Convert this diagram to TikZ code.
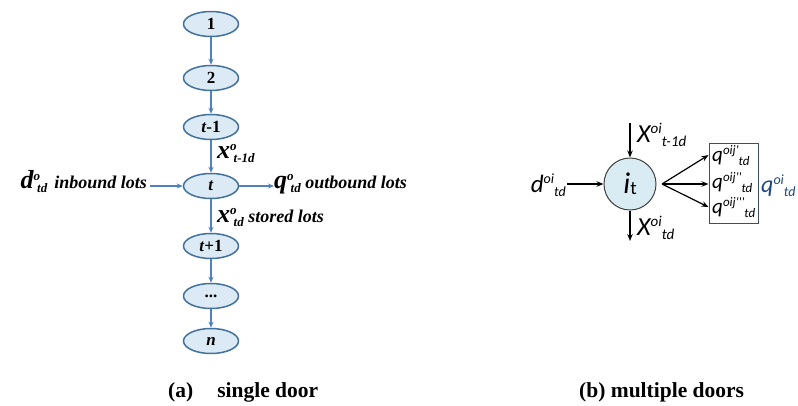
\documentclass[tikz,border=0pt]{standalone}
\usepackage{fontspec}
\setmainfont{Liberation Serif}
\newfontfamily\calfont{Carlito}
\usetikzlibrary{shapes.geometric,arrows.meta}
\definecolor{arrowblue}{RGB}{79,129,189}
\definecolor{ellborder}{RGB}{65,113,156}
\definecolor{ellfill}{RGB}{219,234,244}
\definecolor{circfill}{RGB}{218,236,243}
\definecolor{boxcol}{RGB}{56,80,110}
\definecolor{qcol}{RGB}{31,73,125}
\newcommand\fs[1]{\fontsize{#1}{#1}\selectfont}
% left labels: base, sup, sub
\newcommand\lsym[3]{{\fs{26}#1}\raisebox{8pt}{\fs{13}#2}\kern-3pt\raisebox{-4pt}{\fs{13}#3}}
% right labels: base, sup, sub, base size, small size, raise, drop
\newcommand\rsymx[7]{{\fs{#4}#1}\raisebox{#6}{\fs{#5}#2}\raisebox{-#7}{\fs{#5}#3}}
\begin{document}
\begin{tikzpicture}[x=1pt,y=-1pt,
  ell/.style={ellipse, draw=ellborder, line width=1.5pt, fill=ellfill,
    minimum width=55pt, minimum height=25pt, inner sep=0pt, font=\fs{17}\bfseries},
  larr/.style={draw=arrowblue, line width=1.4pt, -{Stealth[length=6pt,width=5pt]}},
  lab/.style={font=\bfseries\itshape\fs{18}, inner sep=0pt},
  rarr/.style={draw=black, line width=1.2pt, -{Stealth[length=7pt,width=5.5pt]}},
  rlab/.style={font=\calfont\itshape, inner sep=0pt},
  captext/.style={font=\bfseries\fs{21.5}, inner sep=0pt, anchor=base west}]
\useasboundingbox (0,0) rectangle (798,405);
% ---- (a) single door
\node[ell] (n1) at (211,24) {1};
\node[ell] (n2) at (211,78) {2};
\node[ell] (ntm) at (211,127) {\textit{t}-1};
\node[ell] (nt) at (211,186) {\textit{t}};
\node[ell] (ntp) at (211,246) {\textit{t}+1};
\node[ell] (ndots) at (211,296) {...};
\node[ell] (nn) at (211,341) {\textit{n}};
\draw[larr] (n1) -- (n2);
\draw[larr] (n2) -- (ntm);
\draw[larr] (ntm) -- (nt);
\draw[larr] (nt) -- (ntp);
\draw[larr] (ntp) -- (ndots);
\draw[larr] (ndots) -- (nn);
\node[lab, anchor=base west] (xtm) at (217,158) {\lsym{x}{o}{t-1d}};
\node[lab, anchor=base east] (lin) at (147,188) {\lsym{d}{o}{td}\hspace{7pt}inbound lots};
\node[lab, anchor=base west] (lout) at (274,188) {\lsym{q}{o}{td} outbound lots};
\node[lab, anchor=base west] (xt) at (217,222) {\lsym{x}{o}{td} stored lots};
\draw[larr] ([xshift=3pt]lin.east |- nt) -- (nt);
\draw[larr] (nt) -- (lout.west |- nt);
\node[captext] (capa) at (168,397) {(a)\hspace{24pt}single door};
% ---- (b) multiple doors
\node[circle, draw=black!75, line width=1pt, fill=circfill, minimum size=52pt, inner sep=0pt]
  (it) at (630,184) {\calfont\itshape\fs{30}i\raisebox{-1pt}{\upshape\fs{19}t}};
\node[rlab, anchor=base east] (din) at (566,192) {\rsymx{d}{oi}{td}{25}{14}{9pt}{4pt}};
\draw[rarr] ([xshift=1pt]din.east |- it) -- (it);
\coordinate (topin) at (630,123);
\draw[rarr] (topin) -- (it);
\node[rlab, anchor=base west] (xin) at (637,142) {\rsymx{X}{oi}{t-1d}{26}{15}{9pt}{4pt}};
\coordinate (botout) at (630,241);
\draw[rarr] (it) -- (botout);
\node[rlab, anchor=base west] (xout) at (637,235) {\rsymx{X}{oi}{td}{26}{15}{9pt}{4pt}};
\node[draw=boxcol, line width=1pt, minimum width=49pt, minimum height=80pt, inner sep=0pt]
  (box) at (733.5,183) {};
\node[rlab, anchor=base west] (q1) at (712,161) {\rsymx{q}{oij'}{td}{21}{13}{7pt}{4pt}};
\node[rlab, anchor=base west] (q2) at (712,188) {\rsymx{q}{oij''}{td}{21}{13}{7pt}{4pt}};
\node[rlab, anchor=base west] (q3) at (712,213) {\rsymx{q}{oij'''}{td}{21}{13}{7pt}{4pt}};
\coordinate (fan) at (662,184);
\draw[rarr] (fan) -- (box.west |- q1);
\draw[rarr] (fan) -- (box.west |- it);
\draw[rarr] (fan) -- (box.west |- q3);
\node[rlab, anchor=base west, text=qcol] (qbig) at (761,192) {\rsymx{q}{oi}{td}{24}{14}{8pt}{4pt}};
\node[captext] (capb) at (579,397) {(b) multiple doors};
\end{tikzpicture}
\end{document}
